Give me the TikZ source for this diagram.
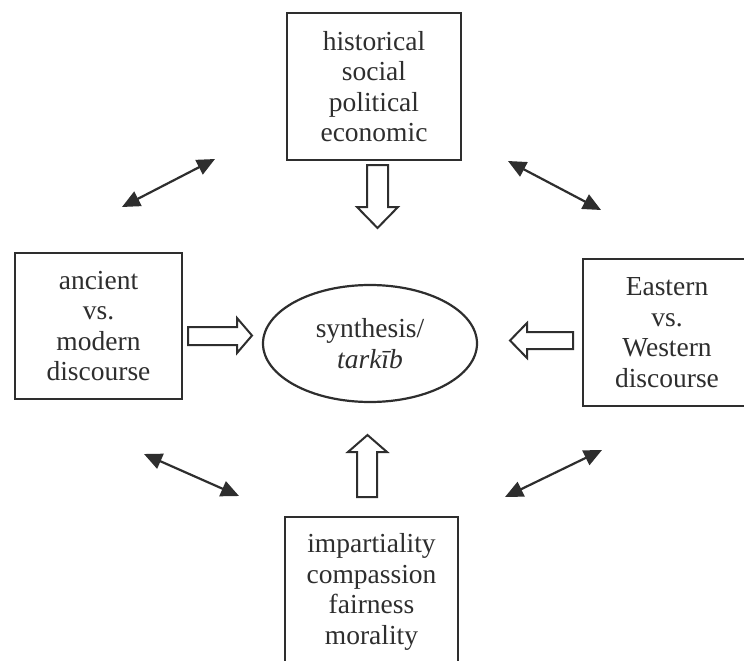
\documentclass[tikz,border=0pt]{standalone}
\usepackage{fontspec}
\setmainfont{Liberation Serif}
\usetikzlibrary{arrows.meta,shapes.geometric}
\definecolor{ink}{HTML}{2E2E2E}
\begin{document}
\begin{tikzpicture}[x=1pt,y=-1pt,
  box/.style={draw=ink,line width=2.2pt,fill=white,align=center,text=ink,
    font=\fontsize{27.5}{30.5}\selectfont,inner sep=0pt},
  hollow/.style={draw=ink,line width=2pt,fill=white,line join=miter},
  dbl/.style={draw=ink,line width=2.2pt,{Triangle[length=18pt,width=16pt]}-{Triangle[length=18pt,width=16pt]}}
]
\useasboundingbox (0,0) rectangle (744,661);
\clip (0,0) rectangle (744,661);
\fill[white] (0,0) rectangle (744,661);

% boxes
\node[box,minimum width=174pt,minimum height=147pt] (top) at (374,86.5)
  {historical\\social\\political\\economic};
\node[box,minimum width=167pt,minimum height=146pt] (left) at (98.5,326)
  {ancient\\vs.\\modern\\discourse};
\node[box,minimum width=168pt,minimum height=147pt] (right) at (667,332.5)
  {Eastern\\vs.\\Western\\discourse};
\node[box,minimum width=173pt,minimum height=150pt] (bottom) at (371.5,592)
  {impartiality\\compassion\\fairness\\morality};

% ellipse
\node[draw=ink,line width=2.2pt,ellipse,minimum width=214pt,minimum height=117pt,
  align=center,text=ink,font=\fontsize{27.5}{30.5}\selectfont,inner sep=0pt] (syn) at (370,343.5)
  {synthesis/\\\textit{tark\={\i}b}};

% hollow arrows
% down (from top box)
\draw[hollow] (367,165) -- (388,165) -- (388,207) -- (398,207) -- (377.5,228)
  -- (357,207) -- (367,207) -- cycle;
% up (from bottom box)
\draw[hollow] (357,497) -- (377,497) -- (377,452) -- (387,452) -- (367.5,435)
  -- (348,452) -- (357,452) -- cycle;
% right (from left box)
\draw[hollow] (188,327) -- (237,327) -- (237,318) -- (252,335.5) -- (237,353)
  -- (237,345) -- (188,345) -- cycle;
% left (from right box)
\draw[hollow] (573,332) -- (527,332) -- (527,323) -- (510,340.5) -- (527,358)
  -- (527,349) -- (573,349) -- cycle;

% double arrows
\coordinate (tl1) at (122,207); \coordinate (tl2) at (215,159);
\coordinate (tr1) at (508,161); \coordinate (tr2) at (601,210);
\coordinate (bl1) at (144,454); \coordinate (bl2) at (239,496);
\coordinate (br1) at (602,450); \coordinate (br2) at (505,497);
\draw[dbl] (tl1) -- (tl2);
\draw[dbl] (tr1) -- (tr2);
\draw[dbl] (bl1) -- (bl2);
\draw[dbl] (br1) -- (br2);
\end{tikzpicture}
\end{document}
